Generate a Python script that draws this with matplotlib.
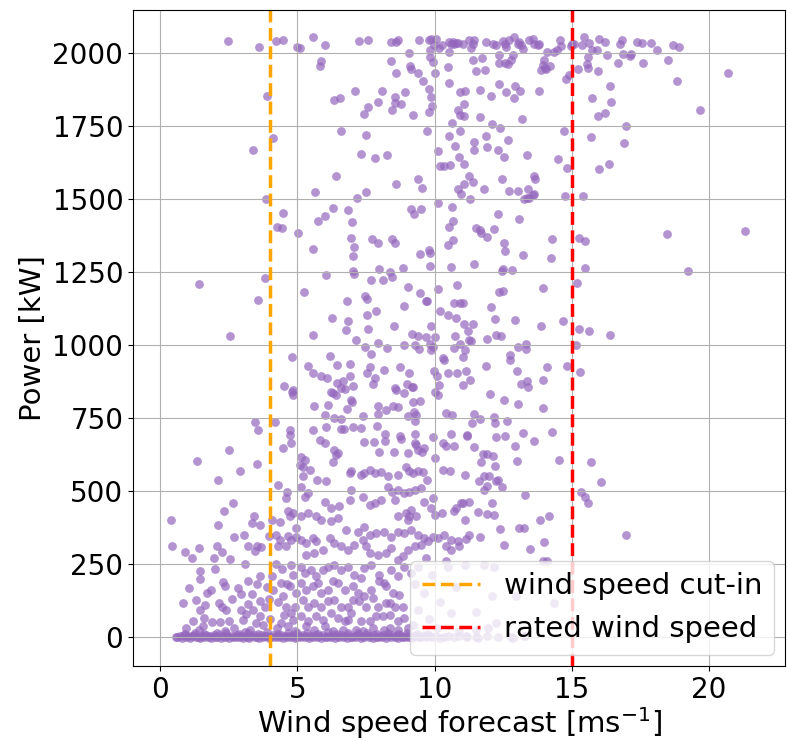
import numpy as np
import matplotlib
matplotlib.use("Agg")
import matplotlib.pyplot as plt

# (wind speed forecast [m/s], power [kW]) pairs, grouped by power range
near_rated = [
    (2.47, 2042), (3.60, 2022), (4.20, 2042), (4.47, 2045), (4.98, 2022), (3.89, 1853), (4.11, 1711),
    (3.38, 1670), (3.85, 1501), (4.49, 1453), (4.25, 1405), (4.45, 1400),
    (5.08, 2019), (5.56, 2056), (5.99, 2028), (7.24, 2041), (7.57, 2047), (8.42, 2037), (8.61, 2039),
    (8.68, 2047), (9.45, 2047), (9.79, 2047), (9.87, 2050), (10.06, 2050), (9.84, 2012), (9.99, 2027),
    (10.18, 2019), (10.26, 2028), (10.54, 2038), (10.66, 2039), (10.78, 2035), (10.60, 2033),
    (10.72, 2033), (10.84, 2036), (10.54, 2004), (5.84, 1973), (5.83, 1957), (9.08, 2000), (8.42, 1972),
    (9.12, 1957), (9.14, 1947), (8.61, 1934), (9.39, 1934), (9.85, 1987), (9.93, 1970), (10.02, 1932),
    (10.48, 1953), (10.54, 1898), (9.57, 1904), (9.79, 1876), (9.87, 1850), (9.92, 1818), (9.78, 1799),
    (10.93, 1867), (10.84, 1805), (10.94, 1787), (10.64, 1761), (10.93, 1734), (10.54, 1717),
    (10.75, 1682), (10.91, 1645), (10.14, 1666), (10.21, 1615), (10.36, 1614), (10.55, 1618),
    (10.87, 1534), (10.97, 1517), (9.73, 1735), (7.10, 1872), (6.32, 1839), (6.56, 1848), (8.09, 1870),
    (7.92, 1834), (7.57, 1816), (7.43, 1791), (8.57, 1850), (8.54, 1830), (8.76, 1826), (8.45, 1807),
    (8.93, 1866), (9.21, 1787), (6.59, 1734), (7.51, 1721), (7.30, 1656), (7.81, 1642), (8.25, 1650),
    (6.42, 1580), (5.65, 1523), (7.49, 1524), (7.18, 1505), (8.60, 1553), (9.41, 1568), (9.53, 1539),
    (6.30, 1470), (6.84, 1461), (6.01, 1443), (5.74, 1426), (6.99, 1423), (9.14, 1465), (9.24, 1450),
    (9.50, 1467), (10.14, 1488), (10.64, 1473), (10.69, 1426), (10.51, 1403),
    (11.03, 2033), (11.27, 2047), (11.39, 2033), (11.45, 2047), (11.33, 2019), (11.88, 2037),
    (12.15, 2032), (12.24, 2030), (12.48, 2041), (12.58, 2033), (12.73, 2044), (12.91, 2056),
    (12.61, 2021), (13.03, 2033), (13.09, 2039), (13.15, 2027), (13.21, 2016), (13.46, 2044),
    (13.58, 2050), (13.64, 2033), (13.76, 2027), (13.82, 2033), (14.12, 2004), (14.37, 2004),
    (14.46, 2012), (14.57, 2047), (14.63, 2025), (14.97, 2025), (15.03, 2033), (15.10, 2033),
    (15.46, 2056), (15.38, 2030), (15.62, 2036), (15.73, 2010), (16.00, 2050), (16.22, 2038),
    (15.94, 2012), (16.76, 2033), (16.83, 2044), (11.39, 1978), (11.73, 1984), (12.36, 1993),
    (12.34, 1967), (12.58, 1967), (12.67, 1962), (12.85, 1993), (12.79, 1976), (11.51, 1940),
    (11.84, 1941), (14.00, 1976), (13.94, 1959), (14.04, 1951), (13.88, 1944), (14.06, 1947),
    (14.21, 1957), (14.79, 1913), (14.91, 1924), (15.25, 1947), (15.58, 1987), (15.56, 1964),
    (15.58, 1951), (15.97, 1939), (16.29, 1995), (16.69, 1968), (16.88, 1996), (12.34, 1896),
    (12.61, 1867), (12.95, 1888), (13.12, 1870), (12.91, 1848), (12.07, 1852), (11.66, 1873),
    (11.12, 1870), (11.09, 1825), (11.09, 1784), (13.80, 1870), (15.74, 1847), (16.41, 1887),
    (16.44, 1832), (16.20, 1795), (15.96, 1786), (13.19, 1775), (11.67, 1782), (12.10, 1757),
    (12.39, 1745), (11.88, 1715), (11.43, 1695), (11.45, 1668), (11.90, 1677), (12.30, 1670),
    (12.68, 1702), (12.55, 1643), (13.37, 1650), (14.73, 1733), (15.70, 1712), (16.97, 1750),
    (16.92, 1693), (14.52, 1637), (14.85, 1608), (16.01, 1602), (16.37, 1620), (11.09, 1622),
    (11.27, 1580), (11.39, 1557), (11.07, 1551), (12.45, 1570), (13.64, 1580), (13.68, 1570),
    (11.80, 1534), (12.73, 1528), (13.03, 1528), (13.41, 1534), (13.58, 1514), (13.64, 1519),
    (13.25, 1502), (13.36, 1503), (13.46, 1505), (11.29, 1500), (14.77, 1512), (15.42, 1512),
    (12.33, 1450), (13.09, 1431), (11.51, 1400), (11.66, 1394), (12.18, 1399),
    (17.40, 2039), (17.58, 2036), (17.91, 2034), (17.15, 1999), (17.12, 1990), (18.13, 2010),
    (18.69, 2029), (18.92, 2023), (17.59, 1967), (18.50, 1978), (20.70, 1931), (18.84, 1905),
    (19.69, 1805), (21.32, 1390),
]

mid_power = [
    (3.80, 1230), (1.40, 1210), (3.56, 1153), (2.55, 1031), (4.79, 959), (4.51, 859), (4.79, 839),
    (4.83, 828), (4.84, 846), (3.46, 736), (4.18, 736), (3.57, 709), (4.74, 708), (4.74, 691),
    (4.75, 662), (4.49, 645), (2.50, 640),
    (5.02, 1385), (5.56, 1329), (6.96, 1365), (7.08, 1335), (7.04, 1306), (7.71, 1363), (7.93, 1348),
    (8.44, 1362), (8.54, 1348), (9.46, 1311), (9.78, 1326), (9.84, 1316), (9.85, 1271), (10.67, 1360),
    (10.50, 1343), (10.60, 1268), (6.04, 1239), (7.04, 1255), (7.08, 1243), (7.99, 1259), (8.39, 1249),
    (8.46, 1232), (8.85, 1263), (7.69, 1223), (8.11, 1221), (5.22, 1181), (6.80, 1152), (7.46, 1166),
    (7.52, 1157), (9.02, 1200), (9.47, 1177), (9.68, 1149), (9.72, 1152), (10.12, 1192), (10.82, 1205),
    (10.72, 1143), (10.94, 1145), (8.88, 1135), (7.88, 1117), (10.21, 1117), (10.50, 1102),
    (10.78, 1092), (6.25, 1093), (7.55, 1102), (6.84, 1082), (6.78, 1052), (7.57, 1055), (8.53, 1064),
    (9.87, 1064), (5.57, 1034), (7.13, 1017), (9.17, 1037), (9.39, 1029), (9.68, 1026), (10.02, 1026),
    (9.85, 1002), (9.93, 994), (9.87, 983), (10.75, 1031), (7.95, 1006), (8.90, 1000), (9.27, 999),
    (9.44, 986), (8.25, 991), (7.48, 992), (7.68, 968), (10.72, 989), (10.93, 1004), (10.32, 955),
    (10.34, 949), (6.18, 962), (6.44, 932), (6.92, 935), (5.38, 926), (5.56, 905), (5.87, 895),
    (6.08, 886), (7.64, 925), (7.54, 903), (7.81, 888), (7.75, 867), (8.14, 913), (6.90, 892),
    (8.73, 925), (9.05, 903), (9.99, 909), (10.09, 892), (10.15, 862), (10.02, 839), (10.12, 827),
    (10.50, 902), (10.82, 903), (6.45, 871), (6.66, 875), (6.75, 848), (7.02, 860), (6.57, 851),
    (6.21, 837), (6.28, 835), (6.41, 829), (8.56, 853), (8.61, 846), (8.90, 836), (9.17, 855),
    (8.99, 867), (9.21, 857), (6.96, 812), (6.99, 803), (5.60, 791), (6.11, 795), (6.81, 781),
    (7.95, 791), (8.23, 778), (8.49, 791), (8.68, 787), (9.21, 803), (9.46, 806), (5.99, 759),
    (6.33, 751), (6.59, 747), (7.40, 757), (7.93, 763), (7.91, 723), (9.02, 757), (9.24, 770),
    (9.29, 738), (9.33, 759), (10.42, 766), (10.63, 759), (5.57, 709), (6.05, 718), (6.60, 711),
    (6.69, 711), (7.02, 720), (7.32, 716), (8.20, 693), (8.73, 686), (8.76, 679), (9.29, 695),
    (9.27, 663), (9.96, 684), (10.60, 694), (5.81, 673), (6.01, 663), (7.44, 667), (7.78, 668),
    (8.20, 670), (9.33, 657), (9.63, 646), (10.30, 663), (10.42, 654), (10.72, 652),
    (11.69, 1385), (11.90, 1369), (12.53, 1349), (12.56, 1322), (13.21, 1307), (14.28, 1364),
    (14.25, 1298), (15.28, 1365), (15.50, 1357), (15.50, 1265), (11.44, 1278), (12.46, 1255),
    (12.48, 1259), (12.82, 1256), (12.36, 1183), (12.51, 1185), (13.94, 1195), (15.18, 1212),
    (11.03, 1145), (12.07, 1129), (12.22, 1090), (12.93, 1086), (14.67, 1082), (13.88, 1066),
    (15.28, 1056), (15.64, 1049), (16.41, 1033), (11.09, 1072), (11.23, 1048), (11.40, 1072),
    (11.27, 1017), (11.34, 1012), (11.93, 1020), (12.24, 1034), (12.42, 1029), (13.33, 1004),
    (13.33, 985), (13.04, 993), (15.16, 998), (11.12, 981), (11.03, 958), (12.76, 965), (12.76, 949),
    (11.88, 927), (11.15, 910), (11.29, 879), (11.03, 864), (13.01, 910), (14.09, 925), (14.82, 926),
    (15.29, 908), (13.14, 867), (13.37, 876), (13.41, 854), (13.94, 878), (12.02, 830), (12.52, 810),
    (13.05, 799), (13.95, 782), (11.45, 764), (11.65, 747), (11.37, 732), (12.18, 752), (12.19, 732),
    (12.65, 740), (11.17, 691), (11.20, 686), (12.25, 685), (12.56, 686), (13.21, 697), (14.28, 702),
    (13.61, 670), (11.45, 650), (12.93, 652), (18.47, 1380), (19.25, 1252),
]

low_power = [
    (1.32, 602), (3.51, 590), (2.90, 568), (2.09, 537), (4.29, 519), (4.62, 497), (4.59, 474),
    (2.65, 457), (2.31, 429), (0.40, 398), (2.09, 381), (3.42, 412), (3.35, 391), (3.64, 383),
    (4.08, 400), (4.37, 393), (4.66, 430), (4.71, 412), (4.83, 423), (4.95, 372), (3.97, 345),
    (3.05, 348), (2.67, 342), (0.44, 311), (0.89, 291), (1.15, 270), (1.42, 304), (1.96, 270),
    (2.08, 309), (2.25, 290), (2.53, 266), (3.18, 312), (3.52, 309), (3.66, 307), (3.45, 292),
    (4.23, 348), (4.35, 332), (4.65, 345), (4.77, 332), (4.96, 343), (4.29, 309), (4.59, 311),
    (3.09, 248), (1.43, 224), (1.46, 197), (1.05, 165), (1.86, 161), (2.36, 172), (1.31, 126),
    (0.81, 114), (1.63, 109), (2.28, 186), (2.84, 167), (3.62, 206), (3.52, 179), (3.34, 147),
    (2.94, 147), (3.21, 111), (1.43, 90), (1.60, 64), (1.87, 49), (2.14, 115), (2.23, 103),
    (2.49, 52), (2.16, 49), (1.41, 24), (2.41, 92), (3.01, 58), (3.13, 78), (3.38, 92), (3.62, 121),
    (3.80, 103), (3.64, 69), (3.50, 46), (3.28, 24), (4.08, 206), (4.11, 161), (4.41, 183),
    (4.47, 138), (4.71, 172), (4.59, 103), (4.77, 81), (4.96, 149), (4.83, 58), (4.41, 46),
    (4.65, 35), (4.20, 250), (4.45, 230), (4.85, 210), (4.30, 120), (4.60, 180), (4.90, 100),
    (3.90, 170), (4.00, 60), (4.25, 30), (4.50, 75), (4.90, 20), (3.75, 40), (3.95, 130), (4.75, 245),
    (2.70, 30), (2.95, 90), (3.20, 190), (2.60, 130), (1.20, 55), (1.70, 150), (2.00, 230),
    (0.95, 30), (1.55, 35), (2.35, 20), (3.10, 15),
    (5.14, 617), (5.26, 606), (5.20, 583), (5.44, 572), (5.08, 589), (6.35, 640), (6.41, 623),
    (6.47, 629), (6.29, 600), (7.99, 634), (8.51, 634), (9.02, 629), (9.39, 640), (9.53, 634),
    (10.02, 611), (6.96, 566), (6.90, 560), (7.32, 554), (7.44, 560), (7.63, 572), (7.81, 560),
    (8.05, 565), (8.32, 549), (8.66, 554), (8.96, 583), (9.06, 566), (9.21, 560), (9.39, 566),
    (9.57, 565), (9.73, 537), (5.72, 537), (6.05, 535), (5.21, 549), (10.30, 572), (10.58, 569),
    (5.14, 514), (5.38, 492), (5.26, 480), (5.99, 463), (6.23, 440), (6.53, 446), (6.90, 469),
    (6.96, 503), (7.38, 480), (7.63, 452), (7.83, 457), (8.05, 469), (8.29, 514), (8.54, 469),
    (8.44, 497), (8.68, 503), (8.90, 492), (9.08, 497), (9.27, 503), (9.51, 509), (9.63, 463),
    (9.87, 440), (9.93, 474), (10.02, 417), (10.26, 423), (10.70, 429), (10.78, 440), (10.97, 457),
    (8.66, 412), (8.96, 423), (9.14, 435), (9.08, 412), (9.02, 400), (9.33, 412), (5.14, 412),
    (5.38, 423), (5.68, 412), (5.87, 400), (6.23, 395), (6.47, 406), (6.78, 366), (7.20, 360),
    (7.44, 377), (7.63, 349), (7.87, 355), (8.17, 360), (8.42, 343), (8.66, 360), (8.90, 355),
    (9.14, 366), (9.39, 349), (9.63, 337), (9.93, 343), (10.12, 337), (10.36, 349), (10.60, 332),
    (10.84, 326), (5.14, 332), (5.32, 320), (5.56, 337), (5.68, 326), (5.32, 280), (5.62, 286),
    (5.93, 298), (6.17, 337), (6.35, 320), (6.59, 309), (6.84, 298), (7.08, 315), (7.38, 332),
    (7.51, 309), (7.63, 286), (7.93, 280), (8.23, 286), (8.42, 303), (8.66, 263), (8.84, 275),
    (9.02, 298), (9.27, 309), (9.51, 315), (9.75, 326), (10.42, 309), (10.60, 298), (10.91, 309),
    (5.14, 240), (5.26, 218), (5.50, 229), (5.68, 206), (5.93, 229), (6.11, 240), (6.35, 246),
    (6.59, 229), (6.84, 240), (7.08, 212), (7.32, 200), (7.44, 235), (7.69, 246), (7.99, 212),
    (8.17, 183), (8.42, 229), (8.66, 206), (8.90, 240), (9.14, 218), (9.39, 240), (5.14, 183),
    (5.32, 161), (5.56, 172), (5.74, 183), (5.87, 149), (6.11, 161), (6.29, 189), (6.47, 183),
    (6.72, 161), (7.02, 172), (7.20, 149), (7.44, 138), (7.69, 161), (7.99, 189), (8.23, 172),
    (8.48, 149), (8.72, 143), (5.20, 126), (5.38, 103), (5.62, 115), (5.87, 103), (6.11, 121),
    (6.35, 126), (6.59, 103), (6.84, 103), (7.02, 126), (7.26, 121), (7.51, 103), (7.75, 132),
    (7.93, 103), (8.23, 115), (8.36, 115), (8.54, 103), (8.84, 103), (5.14, 69), (5.38, 52),
    (5.68, 69), (5.93, 58), (6.23, 81), (6.47, 63), (6.72, 52), (6.84, 58), (6.96, 81), (7.32, 52),
    (7.63, 52), (7.87, 69), (8.11, 69), (8.36, 75), (8.66, 52), (8.90, 63), (5.32, 35), (5.62, 24),
    (5.99, 35), (6.29, 18), (6.66, 24), (7.14, 24), (7.38, 18), (7.75, 29), (8.17, 24), (8.36, 29),
    (8.66, 24), (9.02, 29), (9.30, 180), (9.60, 150), (9.90, 210), (10.20, 120), (10.50, 240),
    (10.80, 170), (9.40, 90), (9.80, 60), (10.10, 30), (10.60, 80), (10.90, 20), (9.20, 40),
    (10.40, 260), (9.70, 270),
    (11.76, 626), (11.93, 626), (12.14, 619), (11.71, 600), (12.19, 585), (13.00, 602), (14.55, 606),
    (15.71, 597), (16.07, 530), (11.10, 554), (11.61, 532), (11.82, 552), (11.97, 552), (11.90, 517),
    (11.80, 503), (12.24, 535), (12.33, 537), (12.46, 512), (13.29, 486), (15.36, 497), (15.48, 477),
    (15.59, 457), (11.27, 463), (11.03, 457), (11.57, 428), (11.90, 421), (12.16, 417), (12.11, 457),
    (11.12, 400), (11.27, 349), (11.15, 334), (11.66, 343), (12.40, 368), (13.07, 372), (13.27, 372),
    (13.84, 401), (14.16, 414), (12.53, 314), (13.48, 301), (14.01, 325), (16.98, 349), (11.80, 246),
    (12.18, 238), (13.94, 258), (14.12, 258), (11.12, 246), (12.97, 138), (12.10, 140), (11.51, 83),
    (14.37, 115), (12.24, 46), (11.51, 24), (11.94, 29),
]

# turbine idle: forecasts with (almost) no production
idle = [
    (0.56, 0), (0.62, -3), (0.70, 2), (0.78, -5), (0.85, 4), (0.93, -1), (1.00, 3), (1.08, -4),
    (1.15, 1), (1.22, 5), (1.30, -2), (1.36, 0), (1.44, -6), (1.50, 3), (1.58, -1), (1.65, 6),
    (1.72, -3), (1.80, 2), (1.86, -5), (1.94, 4), (2.00, 0), (2.08, -2), (2.15, 5), (2.22, -4),
    (2.30, 1), (2.37, -1), (2.44, 3), (2.52, -6), (2.60, 2), (2.66, 0), (2.74, -3), (2.80, 6),
    (2.88, -2), (2.95, 1), (3.02, -5), (3.10, 3), (3.17, 0), (3.24, -4), (3.32, 2), (3.40, 5),
    (3.46, -1), (3.54, 0), (3.60, -6), (3.68, 4), (3.75, -2), (3.82, 1), (3.90, 3), (3.96, -4),
    (4.04, 0), (4.10, 6), (4.18, -3), (4.25, 2), (4.32, -1), (4.40, 4), (4.47, -5), (4.54, 1),
    (4.62, 0), (4.70, 3), (4.76, -2), (4.84, 5), (4.90, -4), (4.98, 0), (5.05, 2), (5.12, -3),
    (5.20, 6), (5.27, -1), (5.34, 3), (5.42, -5), (5.50, 1), (5.56, 0), (5.64, 4), (5.70, -2),
    (5.78, 2), (5.85, -4), (5.92, 5), (6.00, 0), (6.07, -3), (6.14, 3), (6.22, -1), (6.30, 6),
    (6.36, -5), (6.44, 1), (6.50, 0), (6.58, 4), (6.65, -2), (6.72, 2), (6.80, -4), (6.86, 5),
    (6.94, 0), (7.00, -3), (7.08, 3), (7.15, -1), (7.22, 6), (7.30, -5), (7.37, 1), (7.44, 0),
    (7.52, 4), (7.60, -2), (7.66, 2), (7.74, -4), (7.80, 5), (7.88, 0), (7.95, -3), (8.02, 3),
    (8.10, -1), (8.17, 6), (8.24, -5), (8.32, 1), (8.40, 0), (8.46, 4), (8.54, -2), (8.60, 2),
    (8.68, -4), (8.75, 5), (8.82, 0), (8.90, -3), (8.96, 3), (9.04, -1), (9.10, 2), (9.18, -4),
    (9.26, 1), (9.34, 3), (9.42, -2), (9.50, 0), (9.60, 4), (9.70, -3), (9.80, 1), (9.92, -1),
    (10.05, 2), (10.20, -4), (10.35, 0), (10.50, 3), (10.70, -2), (10.90, 1), (11.20, 0),
    (11.50, -3), (11.90, 2), (12.30, -1), (12.80, 0), (13.30, 1),
    (0.90, 10), (1.25, 12), (1.60, 9), (2.05, 11), (2.40, 13), (2.85, 8), (3.20, 12), (3.55, 10),
    (3.90, 14), (4.30, 9), (4.65, 12), (5.00, 11), (5.35, 13), (5.75, 10), (6.10, 14), (6.45, 9),
    (6.85, 12), (7.20, 11), (7.55, 13), (7.90, 10), (8.30, 12), (8.65, 9), (9.00, 11), (9.35, 10),
    (9.75, 8), (12.85, -5), (13.27, 1), (11.57, -5), (11.15, 1),
]

cut_in = 4.0
rated = 15.0

points = np.array(near_rated + mid_power + low_power + idle)
wind = points[:, 0]
power = points[:, 1]

plt.rcParams['font.size'] = 21
plt.rcParams['xtick.labelsize'] = 20
plt.rcParams['ytick.labelsize'] = 20

fig, ax = plt.subplots(figsize=(7.87, 7.42), dpi=100)
fig.subplots_adjust(left=0.169, right=0.998, bottom=0.102, top=0.986)

ax.scatter(wind, power, s=40, color='tab:purple', alpha=0.7, linewidths=0)
ax.axvline(cut_in, color='orange', linestyle='--', linewidth=2.5, label='wind speed cut-in')
ax.axvline(rated, color='red', linestyle='--', linewidth=2.5, label='rated wind speed')

ax.set_xlim(-1.0, 22.8)
ax.set_ylim(-102, 2147)
ax.set_xlabel('Wind speed forecast [ms$^{-1}$]', labelpad=1)
ax.set_ylabel('Power [kW]')
ax.grid(True)
ax.legend(loc='lower right', borderaxespad=0.4)

fig.savefig('out.png', dpi=100)
